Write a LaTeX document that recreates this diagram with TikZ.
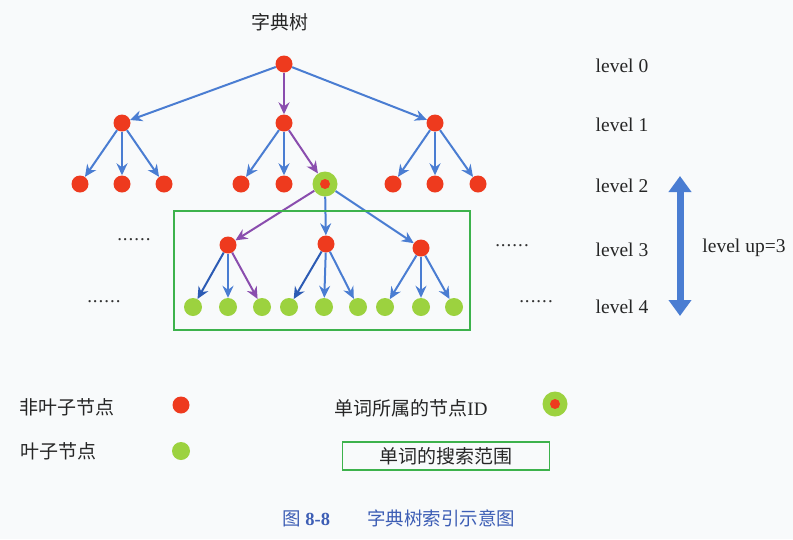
\documentclass[tikz,border=0pt]{standalone}
\usepackage{fontspec}
\usepackage{xcolor}
\usepackage{tikz}
\usetikzlibrary{arrows.meta}
\setmainfont{Liberation Serif}
\newfontfamily\cjk{Noto Sans CJK SC}
\definecolor{nodered}{HTML}{EE3A1E}
\definecolor{leafgreen}{HTML}{9CD23F}
\definecolor{linkblue}{HTML}{4A7DD2}
\definecolor{linkdark}{HTML}{2C5BB4}
\definecolor{routepurple}{HTML}{8A4DAE}
\definecolor{boxgreen}{HTML}{3DB24C}
\definecolor{capblue}{HTML}{3D5EB5}
\definecolor{paper}{HTML}{F8FAFB}

\begin{document}
\begin{tikzpicture}[x=1pt, y=-1pt, >={Stealth[length=12pt, width=11pt, inset=4pt]},
  inner/.style={circle, fill=nodered, minimum size=17pt, inner sep=0pt},
  leaf/.style={circle, fill=leafgreen, minimum size=18pt, inner sep=0pt},
  wordid/.style={circle, fill=leafgreen, minimum size=25pt, inner sep=0pt},
  dotred/.style={circle, fill=nodered, minimum size=10pt, inner sep=0pt},
  link/.style={->, draw=linkblue, line width=2pt},
  linkd/.style={->, draw=linkdark, line width=2pt},
  route/.style={->, draw=routepurple, line width=2pt},
  lvl/.style={font=\fontsize{19.5}{22}\selectfont, text=black!85},
  zh/.style={font=\cjk\fontsize{19}{22}\selectfont, text=black!85},
  etc/.style={font=\fontsize{19}{22}\selectfont, text=black!80}]
\fill[paper] (0,0) rectangle (793,539);
\useasboundingbox (0,0) rectangle (793,539);
% title
\node[zh] (title) at (280,22) {字典树};
% level 0 and 1
\node[inner] (r) at (284,64) {};
\node[inner] (a) at (122,123) {};
\node[inner] (b) at (284,123) {};
\node[inner] (c) at (435,123) {};
% level 2
\node[inner] (a1) at (80,184) {};
\node[inner] (a2) at (122,184) {};
\node[inner] (a3) at (164,184) {};
\node[inner] (b1) at (241,184) {};
\node[inner] (b2) at (284,184) {};
\node[wordid] (b3) at (325,184) {};
\node[dotred] (b3c) at (b3) {};
\node[inner] (c1) at (393,184) {};
\node[inner] (c2) at (435,184) {};
\node[inner] (c3) at (478,184) {};
% level 3
\node[inner] (d) at (228,245) {};
\node[inner] (e) at (326,244) {};
\node[inner] (f) at (421,248) {};
% level 4
\node[leaf] (d1) at (193,307) {};
\node[leaf] (d2) at (228,307) {};
\node[leaf] (d3) at (262,307) {};
\node[leaf] (e1) at (289,307) {};
\node[leaf] (e2) at (324,307) {};
\node[leaf] (e3) at (358,307) {};
\node[leaf] (f1) at (385,307) {};
\node[leaf] (f2) at (421,307) {};
\node[leaf] (f3) at (454,307) {};
% connectors
\draw[link] (r) -- (a);
\draw[route] (r) -- (b);
\draw[link] (r) -- (c);
\draw[link] (a) -- (a1);
\draw[link] (a) -- (a2);
\draw[link] (a) -- (a3);
\draw[link] (b) -- (b1);
\draw[link] (b) -- (b2);
\draw[route] (b) -- (b3);
\draw[link] (c) -- (c1);
\draw[link] (c) -- (c2);
\draw[link] (c) -- (c3);
\draw[route] (b3) -- (d);
\draw[link] (b3) -- (e);
\draw[link] (b3) -- (f);
\draw[linkd] (d) -- (d1);
\draw[link] (d) -- (d2);
\draw[route] (d) -- (d3);
\draw[linkd] (e) -- (e1);
\draw[link] (e) -- (e2);
\draw[link] (e) -- (e3);
\draw[link] (f) -- (f1);
\draw[link] (f) -- (f2);
\draw[link] (f) -- (f3);
% search range
\draw[boxgreen, line width=1.6pt] (174,211) rectangle (470,330);
\node[etc] (dl3) at (134,240) {.\kern1pt.\kern1pt.\kern1pt.\kern1pt.\kern1pt.};
\node[etc] (dl4) at (104,302) {.\kern1pt.\kern1pt.\kern1pt.\kern1pt.\kern1pt.};
\node[etc] (dr3) at (512,246) {.\kern1pt.\kern1pt.\kern1pt.\kern1pt.\kern1pt.};
\node[etc] (dr4) at (536,302) {.\kern1pt.\kern1pt.\kern1pt.\kern1pt.\kern1pt.};
% level labels
\node[lvl] (l0) at (622,66) {level 0};
\node[lvl] (l1) at (622,125) {level 1};
\node[lvl] (l2) at (622,186) {level 2};
\node[lvl] (l3) at (622,250) {level 3};
\node[lvl] (l4) at (622,307) {level 4};
\coordinate (up) at (680,176);
\coordinate (down) at (680,316);
\draw[{Triangle[length=16pt, width=22pt]}-{Triangle[length=16pt, width=22pt]}, draw=linkblue, fill=linkblue, line width=7pt] (up) -- (down);
\node[lvl] (lu) at (744,248) {level up=3};
% legend
\node[zh] (k1) at (67,407) {非叶子节点};
\node[inner] (k1n) at (181,405) {};
\node[zh] (k2) at (58,451) {叶子节点};
\node[leaf] (k2n) at (181,451) {};
\node[zh] (k3) at (411,408) {单词所属的节点{\rmfamily ID}};
\node[wordid] (k3n) at (555,404) {};
\node[dotred] (k3c) at (k3n) {};
\node[zh, draw=boxgreen, line width=1.6pt, minimum width=207pt, minimum height=28pt] (k4) at (446,456) {单词的搜索范围};
% caption
\node[font=\cjk\fontsize{18.5}{20}\selectfont, text=capblue] (cap) at (399,518) {图 {\rmfamily\bfseries 8-8}\qquad 字典树索引示意图};
\end{tikzpicture}
\end{document}
